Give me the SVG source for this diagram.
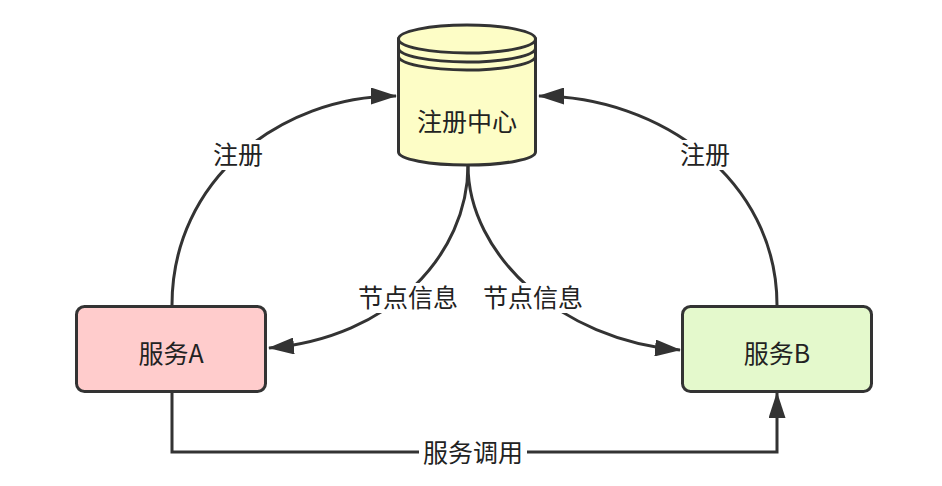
<svg xmlns="http://www.w3.org/2000/svg" width="942" height="486" viewBox="0 0 942 486">
<defs>
<style>
.edge{fill:none;stroke:#333;stroke-width:3}
.node{stroke:#333;stroke-width:3}
.t{font-family:"Noto Sans CJK SC","Noto Sans",sans-serif;font-size:25px;fill:#222;text-anchor:middle}
.bg{fill:#fff}
</style>
<marker id="arr" viewBox="0 0 26 17" refX="25" refY="8.5" markerWidth="26" markerHeight="17" markerUnits="userSpaceOnUse" orient="auto">
<path d="M0,0 L26,8.5 L0,17 z" fill="#333"/>
</marker>
</defs>
<rect width="942" height="486" fill="#fff"/>
<g id="connectors">
<path class="edge" d="M172,305 C172,180 280,96 396,96" marker-end="url(#arr)"/>
<path class="edge" d="M777,305 C777,180 660,96 539,96" marker-end="url(#arr)"/>
<path class="edge" d="M468,165 C468,255 390,338 269,348" marker-end="url(#arr)"/>
<path class="edge" d="M468,165 C468,255 560,340 680,350" marker-end="url(#arr)"/>
<path class="edge" d="M172,392 V452 H777 V393" marker-end="url(#arr)"/>
<rect class="bg" x="211" y="140" width="54" height="30"/>
<text class="t" x="238" y="164">注册</text>
<rect class="bg" x="678" y="140" width="54" height="30"/>
<text class="t" x="705" y="164">注册</text>
<rect class="bg" x="356" y="283" width="104" height="30"/>
<text class="t" x="408" y="307">节点信息</text>
<rect class="bg" x="481" y="283" width="104" height="30"/>
<text class="t" x="533" y="307">节点信息</text>
<rect class="bg" x="419" y="438" width="108" height="30"/>
<text class="t" x="473" y="462">服务调用</text>
</g>
<g id="registry">
<path class="node" fill="#fdfdc6" d="M398.5,39 V152 A68.5,13 0 0 0 535.5,152 V39 Z"/>
<ellipse class="node" fill="#fdfdc6" cx="467" cy="39" rx="68.5" ry="14"/>
<path class="edge" d="M398.5,48 A68.5,14 0 0 0 535.5,48"/>
<path class="edge" d="M398.5,56 A68.5,14 0 0 0 535.5,56"/>
<text class="t" x="467" y="131">注册中心</text>
</g>
<g id="serviceA">
<rect class="node" fill="#ffcccc" x="76.5" y="306.5" width="189" height="85" rx="8"/>
<text class="t" x="171" y="363">服务A</text>
</g>
<g id="serviceB">
<rect class="node" fill="#e4f9cc" x="682.5" y="306.5" width="189" height="85" rx="8"/>
<text class="t" x="777" y="363">服务B</text>
</g>
</svg>
